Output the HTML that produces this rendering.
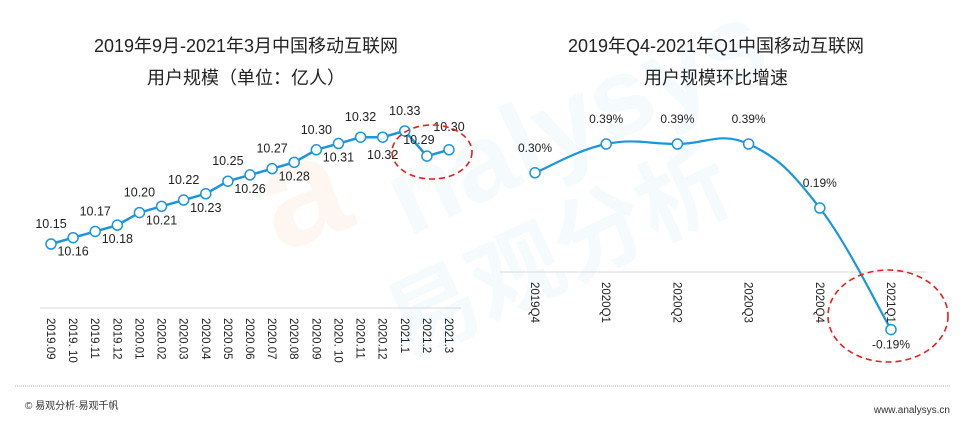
<!DOCTYPE html>
<html><head><meta charset="utf-8">
<style>
html,body{margin:0;padding:0;background:#fff;}
body{width:966px;height:432px;overflow:hidden;position:relative;font-family:"Liberation Sans","Noto Sans CJK SC",sans-serif;}
svg{position:absolute;left:0;top:0;}
</style></head>
<body>
<svg id="chart" width="966" height="432">
  <g opacity="0.3">
    <text x="250" y="230" font-size="150" fill="#fde8d4" font-weight="bold" transform="rotate(-20 330 160)" font-family="Liberation Sans,sans-serif">a</text>
    <text x="380" y="190" font-size="110" fill="#dff1fb" font-weight="bold" transform="rotate(-25 500 150)" font-family="Liberation Sans,sans-serif">nalysys</text>
    <text x="365" y="300" font-size="92" fill="#dff1fb" font-weight="bold" transform="rotate(-25 520 240)" font-family="Noto Sans CJK SC,sans-serif">易观分析</text>
  </g>
  <g font-size="18" fill="#222" text-anchor="middle">
    <text x="246" y="52">2019年9月-2021年3月中国移动互联网</text>
    <text x="246" y="84">用户规模（单位：亿人）</text>
  </g>
  <g font-size="18" fill="#222" text-anchor="middle">
    <text x="716" y="52">2019年Q4-2021年Q1中国移动互联网</text>
    <text x="716" y="84">用户规模环比增速</text>
  </g>
  <line x1="40" y1="308" x2="461" y2="308" stroke="#d9d9d9" stroke-width="1"/>
  <line x1="500" y1="272" x2="926" y2="272" stroke="#d9d9d9" stroke-width="1"/>
  <g id="left"></g>
  <g id="right"></g>
  <ellipse cx="432" cy="152" rx="40" ry="27" fill="none" stroke="#e61e1e" stroke-width="1.6" stroke-dasharray="6,4"/>
  <ellipse cx="888" cy="316" rx="60" ry="46" fill="none" stroke="#e61e1e" stroke-width="1.6" stroke-dasharray="6,4"/>
  <line x1="15" y1="386" x2="950" y2="386" stroke="#999" stroke-width="0.8" stroke-dasharray="1,1"/>
  <text x="25" y="409" font-size="10" fill="#333">© 易观分析·易观千帆</text>
  <text x="950" y="413" font-size="10" fill="#333" text-anchor="end">www.analysys.cn</text>
</svg>
<script>
const leftCats=["2019.09","2019. 10","2019.11","2019.12","2020.01","2020.02","2020.03","2020.04","2020.05","2020.06","2020.07","2020.08","2020.09","2020. 10","2020.11","2020.12","2021.1","2021.2","2021.3"];
const leftVals=[10.15,10.16,10.17,10.18,10.20,10.21,10.22,10.23,10.25,10.26,10.27,10.28,10.30,10.31,10.32,10.32,10.33,10.29,10.30];
const leftLabelsAbove=[true,false,true,false,true,false,true,false,true,false,true,false,true,false,true,false,true,true,true];
const rightCats=["2019Q4","2020Q1","2020Q2","2020Q3","2020Q4","2021Q1"];
const rightVals=[0.30,0.39,0.39,0.39,0.19,-0.19];
const rightLabels=["0.30%","0.39%","0.39%","0.39%","0.19%","-0.19%"];
const NS="http://www.w3.org/2000/svg";
function mk(tag,attrs,parent){const e=document.createElementNS(NS,tag);for(const k in attrs)e.setAttribute(k,attrs[k]);parent.appendChild(e);return e;}
// left
const L=document.getElementById('left');
const lx=i=>51+i*(449-51)/(leftCats.length-1);
const ly=v=>244-(v-10.15)*628;
let d=leftVals.map((v,i)=>(i?'L':'M')+lx(i)+','+ly(v)).join(' ');
const lp=mk('path',{d:d,fill:'none',stroke:'#1a96dc','stroke-width':2.5},L);


leftVals.forEach((v,i)=>{
  const c=mk('circle',{cx:lx(i),cy:ly(v),r:5,fill:'#fff',stroke:'#1a96dc','stroke-width':1.5},L);
  
  
  const up=leftLabelsAbove[i];
  let tx=lx(i),ty=up?ly(v)-16:ly(v)+18;
  if(i===17){tx=lx(i)-8;ty=ly(v)-12;}
  if(i===18){ty=ly(v)-19;}
  if(i===15){ty=ly(v)+22;}
  const t=mk('text',{x:tx,y:ty,'font-size':12.5,fill:'#222','text-anchor':'middle'},L);
  t.textContent=v.toFixed(2);
  
  
  const a=mk('text',{x:0,y:0,'font-size':11.5,fill:'#222',transform:'translate('+(lx(i)-4)+',318) rotate(90)'},L);
  a.textContent=leftCats[i];
  
  
});
// right
const R=document.getElementById('right');
const rx=i=>535+i*(891-535)/(rightCats.length-1);
const ry=v=>268.8-v*320;
const pts=rightVals.map((v,i)=>[rx(i),ry(v)]);
let rd='M'+pts[0][0]+','+pts[0][1];
for(let i=0;i<pts.length-1;i++){
  const p0=pts[Math.max(0,i-1)],p1=pts[i],p2=pts[i+1],p3=pts[Math.min(pts.length-1,i+2)];
  const t=0.2;
  rd+=' C'+(p1[0]+(p2[0]-p0[0])*t)+','+(p1[1]+(p2[1]-p0[1])*t)+' '+(p2[0]-(p3[0]-p1[0])*t)+','+(p2[1]-(p3[1]-p1[1])*t)+' '+p2[0]+','+p2[1];
}
const rp=mk('path',{d:rd,fill:'none',stroke:'#1a96dc','stroke-width':2.2},R);


rightVals.forEach((v,i)=>{
  const c=mk('circle',{cx:rx(i),cy:ry(v),r:5,fill:'#fff',stroke:'#1a96dc','stroke-width':1.5},R);
  
  
  const t=mk('text',{x:rx(i),y:v<0?ry(v)+19:ry(v)-21,'font-size':12,fill:'#222','text-anchor':'middle'},R);
  t.textContent=rightLabels[i];
  
  
  const a=mk('text',{x:0,y:0,'font-size':11.5,fill:'#222',transform:'translate('+(rx(i)-4)+',282) rotate(90)'},R);
  a.textContent=rightCats[i];
  
  
});
</script>
</body></html>
